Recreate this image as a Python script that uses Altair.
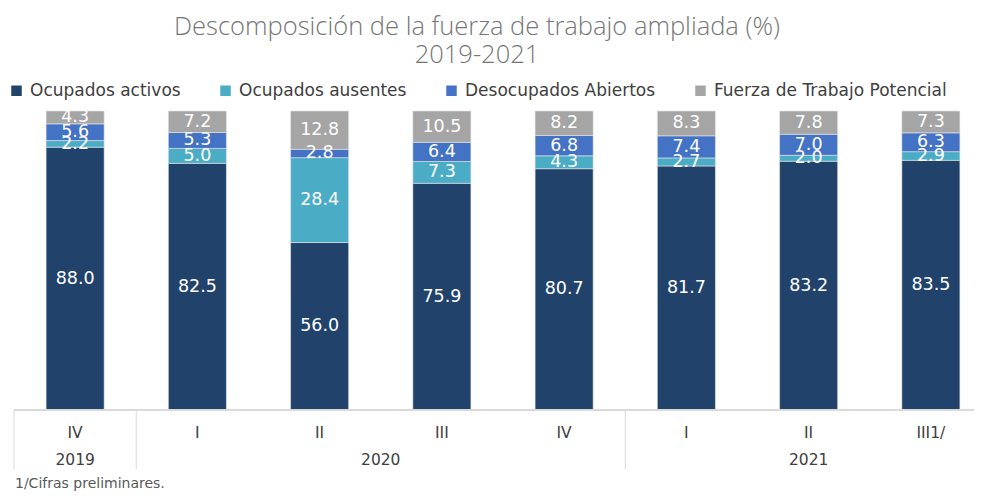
import altair as alt
import pandas as pd

quarters = ["IV", "I", "II", "III", "IV", "I", "II", "III1/"]
years = ["2019", "2020", "2020", "2020", "2020", "2021", "2021", "2021"]
series_names = ["Ocupados activos", "Ocupados ausentes", "Desocupados Abiertos", "Fuerza de Trabajo Potencial"]
activos = [88.0, 82.5, 56.0, 75.9, 80.7, 81.7, 83.2, 83.5]
ausentes = [2.2, 5.0, 28.4, 7.3, 4.3, 2.7, 2.0, 2.9]
desocupados = [5.6, 5.3, 2.8, 6.4, 6.8, 7.4, 7.0, 6.3]
potencial = [4.3, 7.2, 12.8, 10.5, 8.2, 8.3, 7.8, 7.3]
colors = ["#21426B", "#4BACC6", "#4472C4", "#A5A5A5"]

keys = [f"{y}-{q}" for y, q in zip(years, quarters)]
rows = []
for si, (name, vals) in enumerate(zip(series_names, [activos, ausentes, desocupados, potencial])):
    for k, v in zip(keys, vals):
        rows.append({"key": k, "serie": name, "value": v, "ord": si, "label": f"{v:.1f}"})
df = pd.DataFrame(rows)
qdf = pd.DataFrame({"key": keys, "q": quarters})

# year group labels anchored at group centres
ydf_a = pd.DataFrame({"key": ["2019-IV", "2021-II"], "year": ["2019", "2021"]})
ydf_b = pd.DataFrame({"key": ["2020-II"], "year": ["2020"]})
sep_df = pd.DataFrame({"key": ["2019-IV", "2020-I", "2021-I"]})

FONT = "DejaVu Sans"
xscale = alt.Scale(domain=keys, range=[0, 978], paddingInner=0, paddingOuter=0)

base = alt.Chart(df)
bars = base.mark_bar(width={"band": 0.475}, stroke="#e6e6e6", strokeWidth=0.6).encode(
    x=alt.X("key:N", scale=xscale, axis=None, sort=keys),
    y=alt.Y("value:Q", stack="normalize", axis=None, scale=alt.Scale(domain=[0, 1])),
    color=alt.Color("serie:N", scale=alt.Scale(domain=series_names, range=colors),
                    sort=series_names,
                    legend=alt.Legend(title=None, orient="none", direction="horizontal",
                                      legendX=-6, legendY=-29, symbolType="square",
                                      symbolSize=110, labelFont=FONT, labelFontSize=17,
                                      labelColor="#404040", columnPadding=36, labelLimit=0,
                                      labelOffset=5, symbolStrokeWidth=0)),
    order=alt.Order("ord:Q", sort="ascending"),
)
texts = base.mark_text(font=FONT, fontSize=17.5, color="white", baseline="middle").encode(
    x=alt.X("key:N", scale=xscale, sort=keys),
    y=alt.Y("value:Q", stack="normalize", bandPosition=0.5),
    text="label:N",
    order=alt.Order("ord:Q", sort="ascending"),
)
axis_line = alt.Chart(qdf).mark_rule(color="#d9d9d9", strokeWidth=1).encode(
    x=alt.value(0), x2=alt.value(970), y=alt.value(299)
)
seps = alt.Chart(sep_df).mark_rule(color="#d9d9d9", strokeWidth=1).encode(
    x=alt.X("key:N", scale=xscale, bandPosition=0, sort=keys), y=alt.value(299), y2=alt.value(358)
)
qlabels = alt.Chart(qdf).mark_text(font=FONT, fontSize=15.5, color="#404040", baseline="middle").encode(
    x=alt.X("key:N", scale=xscale, sort=keys), y=alt.value(322), text="q:N"
)
ylab_a = alt.Chart(ydf_a).mark_text(font=FONT, fontSize=15.5, color="#404040", baseline="middle").encode(
    x=alt.X("key:N", scale=xscale, sort=keys, bandPosition=0.5), y=alt.value(349), text="year:N"
)
ylab_b = alt.Chart(ydf_b).mark_text(font=FONT, fontSize=15.5, color="#404040", baseline="middle").encode(
    x=alt.X("key:N", scale=xscale, sort=keys, bandPosition=1), y=alt.value(349), text="year:N"
)
foot = alt.Chart(pd.DataFrame({"t": ["1/Cifras preliminares."]})).mark_text(
    font=FONT, fontSize=14, color="#595959", align="left", baseline="top"
).encode(x=alt.value(1), y=alt.value(366), text="t:N")

chart = alt.layer(bars, texts, axis_line, seps, qlabels, ylab_a, ylab_b, foot).properties(
    width=960, height=299,
    padding={"left": 6, "top": 103, "right": 0, "bottom": 81},
    autosize=alt.AutoSizeParams(type="none"),
    title=alt.TitleParams(
        text=["Descomposición de la fuerza de trabajo ampliada (%)", "2019-2021"],
        font="Open Sans", fontWeight=300, fontSize=25.5, color="#767676",
        anchor="middle", offset=14, dx=-17, lineHeight=28,
    ),
).configure_view(stroke=None)

chart.save("out.html", embed_options={"renderer": "svg", "actions": False})
